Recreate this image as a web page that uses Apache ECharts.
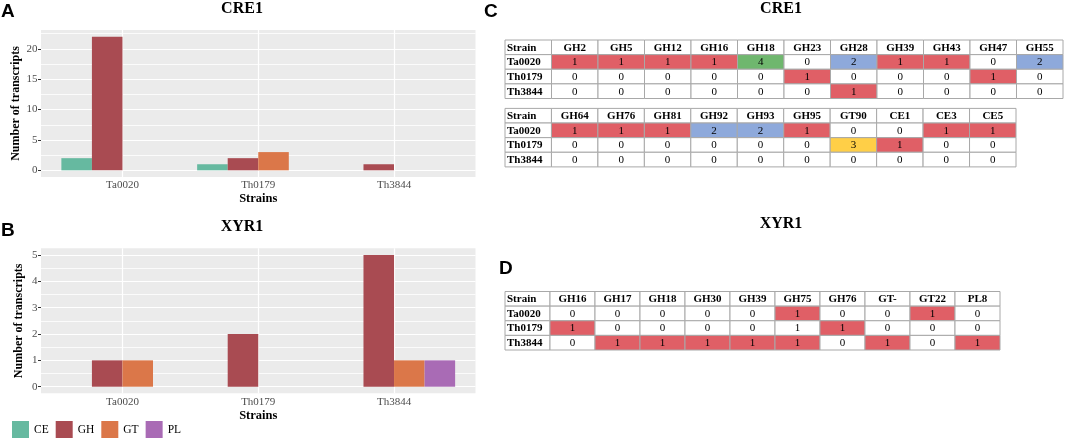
<!DOCTYPE html>
<html><head><meta charset="utf-8">
<script src="https://cdn.jsdelivr.net/npm/echarts@6/dist/echarts.min.js"></script>
<style>html,body{margin:0;padding:0;background:#fff}#c{width:1065px;height:439px}</style>
</head><body><div id="c"></div>
<script>
// ---------------- DATA ----------------
const strains = ['Ta0020', 'Th0179', 'Th3844'];
const families = ['CE', 'GH', 'GT', 'PL'];

// Panel A (CRE1) number of transcripts per family, per strain
const creCE = [2, 1, 0];
const creGH = [22, 2, 1];
const creGT = [0, 3, 0];
const crePL = [0, 0, 0];
// Panel B (XYR1)
const xyrCE = [0, 0, 0];
const xyrGH = [1, 2, 5];
const xyrGT = [1, 0, 1];
const xyrPL = [0, 0, 1];

// tick labels
const yTicksA = [0, 5, 10, 15, 20];
const yMinorA = [2.5, 7.5, 12.5, 17.5, 22.5];
const yTicksB = [0, 1, 2, 3, 4, 5];
const yMinorB = [0.5, 1.5, 2.5, 3.5, 4.5];
const xTicks = [1, 2, 3];

// Panel C (CRE1) tables
const creGenes1 = ['GH2', 'GH5', 'GH12', 'GH16', 'GH18', 'GH23', 'GH28', 'GH39', 'GH43', 'GH47', 'GH55'];
const creTa0020_1 = [1, 1, 1, 1, 4, 0, 2, 1, 1, 0, 2];
const creTh0179_1 = [0, 0, 0, 0, 0, 1, 0, 0, 0, 1, 0];
const creTh3844_1 = [0, 0, 0, 0, 0, 0, 1, 0, 0, 0, 0];

const creGenes2 = ['GH64', 'GH76', 'GH81', 'GH92', 'GH93', 'GH95', 'GT90', 'CE1', 'CE3', 'CE5'];
const creTa0020_2 = [1, 1, 1, 2, 2, 1, 0, 0, 1, 1];
const creTh0179_2 = [0, 0, 0, 0, 0, 0, 3, 1, 0, 0];
const creTh3844_2 = [0, 0, 0, 0, 0, 0, 0, 0, 0, 0];

// Panel D (XYR1) table
const xyrGenes = ['GH16', 'GH17', 'GH18', 'GH30', 'GH39', 'GH75', 'GH76', 'GT-', 'GT22', 'PL8'];
const xyrTa0020 = [0, 0, 0, 0, 0, 1, 0, 0, 1, 0];
const xyrTh0179 = [1, 0, 0, 0, 0, 1, 1, 0, 0, 0];
const xyrTh3844 = [0, 1, 1, 1, 1, 1, 0, 1, 0, 1];
// cells shown without highlight in the original
const xyrUnhighlighted = [['Th0179', 'GH75']];

// ---------------- STYLE ----------------
const SERIF = "'Liberation Serif', 'Times New Roman', serif";
const SANS = "'Liberation Sans', Arial, sans-serif";
const famColor = { CE: '#66B9A0', GH: '#A94B52', GT: '#DB7749', PL: '#A96BB5' };
const cellColor = { 1: '#E05F66', 2: '#8EA9DB', 3: '#FFCF47', 4: '#6FB76E' };

const chart = echarts.init(document.getElementById('c'), null, { renderer: 'canvas' });

const grids = [];
const xAxes = [];
const yAxes = [];
const series = [];

function barPanel(gi, grid, vals, yMin, yMax, ticks, minor, yNameGap, xNameGap) {
  grids.push(Object.assign({ show: true, backgroundColor: '#EBEBEB', borderWidth: 0, outerBoundsMode: 'none' }, grid));
  xAxes.push({
    gridIndex: gi, type: 'value', min: 0.4, max: 3.6,
    axisLine: { show: false }, splitLine: { show: false },
    axisTick: { show: true, customValues: xTicks, length: 3, lineStyle: { color: '#333', width: 1 } },
    axisLabel: { customValues: xTicks, formatter: v => strains[Math.round(v) - 1] || '', margin: 3,
      fontFamily: SERIF, fontSize: 11, color: '#4D4D4D' },
    name: 'Strains', nameLocation: 'middle', nameGap: xNameGap,
    nameTextStyle: { fontFamily: SERIF, fontSize: 12.5, fontWeight: 'bold', color: '#000' }
  });
  yAxes.push({
    gridIndex: gi, type: 'value', min: yMin, max: yMax,
    axisLine: { show: false }, splitLine: { show: false },
    axisTick: { show: true, customValues: ticks, length: 3, lineStyle: { color: '#333', width: 1 } },
    axisLabel: { customValues: ticks, margin: 3.5, fontFamily: SERIF, fontSize: 11, color: '#4D4D4D' },
    name: 'Number of transcripts', nameLocation: 'middle', nameGap: yNameGap, nameRotate: 90,
    nameTextStyle: { fontFamily: SERIF, fontSize: 12, fontWeight: 'bold', color: '#000' }
  });
  const ml = [];
  minor.forEach(v => ml.push({ yAxis: v, lineStyle: { color: '#FFFFFF', width: 0.8, type: 'solid' } }));
  ticks.forEach(v => ml.push({ yAxis: v, lineStyle: { color: '#FFFFFF', width: 1.2, type: 'solid' } }));
  xTicks.forEach(v => ml.push({ xAxis: v, lineStyle: { color: '#FFFFFF', width: 1.2, type: 'solid' } }));
  series.push({
    type: 'line', name: 'grid' + gi, xAxisIndex: gi, yAxisIndex: gi, data: [], z: 1, silent: true,
    markLine: { z: 1, silent: true, symbol: ['none', 'none'], animation: false, label: { show: false },
      emphasis: { disabled: true }, data: ml }
  });
  families.forEach((f, k) => {
    series.push({
      type: 'bar', name: f, xAxisIndex: gi, yAxisIndex: gi, z: 3,
      barWidth: '22.5%', barGap: '0%',
      itemStyle: { color: famColor[f] },
      data: strains.map((s, i) => [i + 1, vals[k][i]])
    });
  });
}

barPanel(0, { left: 41, top: 30, width: 434.5, height: 147 },
  [creCE, creGH, creGT, crePL], -1.1, 23.1, yTicksA, yMinorA, 19, 15);
barPanel(1, { left: 41, top: 248.3, width: 434.5, height: 145 },
  [xyrCE, xyrGH, xyrGT, xyrPL], -0.25, 5.25, yTicksB, yMinorB, 16, 16);

function tablePanel(gi, grid, genes, rows, skip) {
  grids.push(Object.assign({ show: false, outerBoundsMode: 'none' }, grid));
  xAxes.push({ gridIndex: gi, type: 'category', data: ['Strain'].concat(genes), show: false });
  yAxes.push({ gridIndex: gi, type: 'category', data: ['Strain'].concat(strains), inverse: true, show: false });
  const cells = [];
  cells.push({ c: 0, r: 0, text: 'Strain', kind: 'rowhead' });
  genes.forEach((g, j) => cells.push({ c: j + 1, r: 0, text: g, kind: 'head' }));
  strains.forEach((s, i) => {
    cells.push({ c: 0, r: i + 1, text: s, kind: 'rowhead' });
    rows[i].forEach((v, j) => {
      const plain = (skip || []).some(p => p[0] === s && p[1] === genes[j]);
      cells.push({ c: j + 1, r: i + 1, text: String(v), kind: 'val', fill: plain ? '#FFFFFF' : (cellColor[v] || '#FFFFFF') });
    });
  });
  series.push({
    type: 'custom', name: 'table' + gi, xAxisIndex: gi, yAxisIndex: gi, silent: true,
    data: cells.map(c => [c.c, c.r]),
    encode: { x: 0, y: 1 },
    renderItem: function (params, api) {
      const cell = cells[params.dataIndex];
      const p = api.coord([cell.c, cell.r]);
      const s = api.size([1, 1]);
      const x0 = p[0] - s[0] / 2, y0 = p[1] - s[1] / 2;
      const bold = cell.kind !== 'val';
      const left = cell.kind === 'rowhead';
      return {
        type: 'group',
        children: [
          { type: 'rect', shape: { x: x0, y: y0, width: s[0], height: s[1] },
            style: { fill: cell.fill || '#FFFFFF', stroke: '#A8A8A8', lineWidth: 1 } },
          { type: 'text',
            style: { text: cell.text, x: left ? x0 + 2 : p[0], y: p[1] + 0.5,
              textAlign: left ? 'left' : 'center', textVerticalAlign: 'middle',
              align: left ? 'left' : 'center', verticalAlign: 'middle',
              font: (bold ? 'bold ' : '') + '11px ' + SERIF, fill: '#000' } }
        ]
      };
    }
  });
}

tablePanel(2, { left: 505, top: 40, width: 558, height: 58.5 }, creGenes1,
  [creTa0020_1, creTh0179_1, creTh3844_1]);
tablePanel(3, { left: 505, top: 108.4, width: 511, height: 58.5 }, creGenes2,
  [creTa0020_2, creTh0179_2, creTh3844_2]);
tablePanel(4, { left: 505, top: 291.5, width: 495, height: 58.5 }, xyrGenes,
  [xyrTa0020, xyrTh0179, xyrTh3844], xyrUnhighlighted);

function label(text, x, y, font, align) {
  return { type: 'text', x: x, y: y, silent: true,
    style: { text: text, font: font, fill: '#000', textAlign: align || 'left', textVerticalAlign: 'middle',
      align: align || 'left', verticalAlign: 'middle' } };
}

chart.setOption({
  animation: false,
  backgroundColor: '#FFFFFF',
  grid: grids,
  xAxis: xAxes,
  yAxis: yAxes,
  legend: {
    data: families, left: 12, top: 421, itemWidth: 17, itemHeight: 17, itemGap: 7, icon: 'rect',
    selectedMode: false, padding: 0,
    textStyle: { fontFamily: SERIF, fontSize: 11.5, color: '#000', width: 14 }
  },
  graphic: [
    label('A', 1, 12, 'bold 19px ' + SANS),
    label('B', 1, 231, 'bold 19px ' + SANS),
    label('C', 484, 12, 'bold 19px ' + SANS),
    label('D', 499, 269, 'bold 19px ' + SANS),
    label('CRE1', 242, 9, 'bold 16px ' + SERIF, 'center'),
    label('XYR1', 242, 226.5, 'bold 16px ' + SERIF, 'center'),
    label('CRE1', 781, 8.5, 'bold 16px ' + SERIF, 'center'),
    label('XYR1', 781, 224, 'bold 16px ' + SERIF, 'center')
  ],
  series: series
});
</script>
</body></html>
